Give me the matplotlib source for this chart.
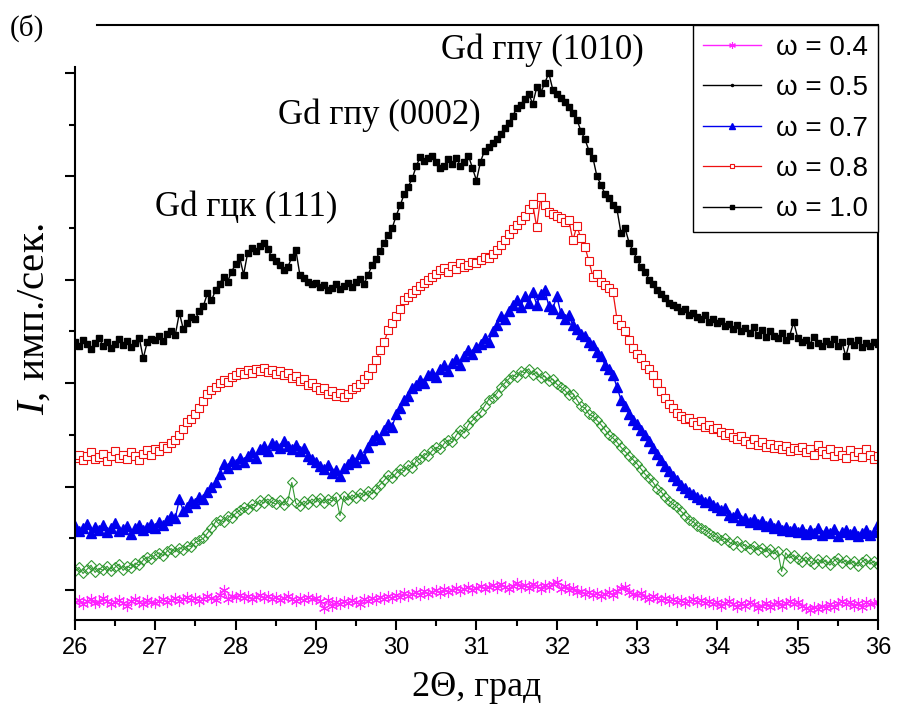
import numpy as np
import matplotlib
matplotlib.use("Agg")
import matplotlib.pyplot as plt
from matplotlib.lines import Line2D
from matplotlib.ticker import MultipleLocator

plt.rcParams["mathtext.fontset"] = "custom"
plt.rcParams["mathtext.rm"] = "Liberation Serif"
plt.rcParams["mathtext.it"] = "Liberation Serif:italic"

# 2-theta scan grid, 0.05 deg step
two_theta = np.round(26.0 + 0.05 * np.arange(201), 2)

# intensities (arb. units), one row per degree
w10 = ([240, 236, 242, 238, 233, 239, 244, 236, 240, 234, 238, 243, 237, 241, 235, 239, 244, 224, 240, 243]
       + [242, 246, 241, 248, 250, 247, 268, 252, 258, 264, 262, 270, 275, 287, 280, 290, 296, 303, 298, 308]
       + [315, 322, 305, 326, 331, 328, 333, 336, 330, 322, 318, 314, 309, 312, 322, 329, 305, 302, 298, 296]
       + [297, 293, 295, 290, 292, 296, 291, 294, 297, 293, 298, 301, 296, 305, 314, 320, 328, 336, 343, 350]
       + [362, 372, 383, 390, 398, 410, 419, 415, 418, 420, 414, 408, 410, 417, 412, 418, 410, 414, 420, 408]
       + [396, 414, 425, 428, 432, 436, 441, 447, 452, 458, 466, 469, 475, 480, 470, 486, 481, 490, 500, 484]
       + [480, 476, 472, 467, 461, 455, 444, 436, 425, 418, 400, 392, 383, 379, 372, 368, 345, 350, 336, 328]
       + [320, 312, 308, 300, 296, 290, 286, 282, 278, 276, 274, 270, 272, 266, 268, 264, 262, 266, 259, 262]
       + [258, 260, 255, 257, 252, 256, 250, 253, 249, 254, 247, 251, 245, 250, 246, 244, 249, 242, 246, 259]
       + [244, 240, 242, 237, 245, 239, 236, 241, 238, 243, 236, 240, 226, 241, 237, 242, 235, 239, 236, 240]
       + [238])

w08 = ([128, 131, 126, 130, 133, 127, 129, 132, 125, 130, 134, 128, 131, 127, 133, 130, 126, 132, 135, 131]
       + [136, 134, 139, 137, 142, 145, 150, 156, 162, 165, 170, 176, 183, 190, 193, 196, 200, 203, 201, 206]
       + [208, 211, 209, 213, 210, 214, 212, 215, 211, 213, 209, 212, 208, 210, 205, 207, 202, 204, 198, 200]
       + [196, 193, 195, 190, 192, 188, 191, 187, 190, 194, 196, 199, 204, 208, 215, 222, 232, 240, 251, 258]
       + [265, 272, 280, 283, 287, 290, 294, 297, 300, 303, 306, 309, 311, 308, 313, 310, 316, 312, 314, 317]
       + [316, 319, 322, 321, 325, 329, 334, 338, 344, 349, 353, 358, 362, 368, 373, 351, 380, 372, 366, 364]
       + [362, 360, 356, 358, 338, 352, 340, 332, 318, 303, 306, 298, 295, 292, 288, 262, 256, 250, 242, 234]
       + [228, 224, 218, 214, 208, 200, 192, 186, 180, 176, 171, 168, 165, 166, 162, 160, 163, 158, 160, 156]
       + [157, 153, 150, 152, 148, 146, 149, 144, 141, 146, 140, 143, 138, 141, 137, 140, 136, 139, 134, 137]
       + [135, 138, 133, 136, 131, 140, 134, 132, 136, 130, 134, 131, 128, 135, 130, 133, 129, 136, 131, 127]
       + [130])

w07 = ([62, 57, 60, 64, 55, 61, 58, 63, 56, 60, 65, 57, 59, 62, 54, 60, 63, 58, 61, 64]
       + [60, 66, 63, 68, 72, 70, 88, 76, 80, 86, 84, 90, 88, 95, 100, 104, 112, 122, 118, 125]
       + [122, 128, 124, 130, 133, 128, 136, 139, 134, 142, 140, 137, 144, 139, 136, 140, 134, 137, 130, 127]
       + [124, 120, 117, 121, 113, 116, 110, 118, 122, 127, 124, 132, 128, 138, 145, 150, 146, 155, 161, 158]
       + [170, 176, 184, 188, 195, 198, 203, 200, 208, 210, 206, 214, 218, 212, 220, 223, 218, 226, 232, 228]
       + [235, 238, 244, 240, 250, 256, 265, 262, 270, 276, 280, 274, 284, 278, 288, 276, 286, 290, 275, 272]
       + [284, 268, 262, 266, 256, 252, 248, 246, 240, 237, 230, 226, 218, 214, 208, 196, 184, 178, 170, 164]
       + [161, 155, 150, 144, 137, 132, 126, 120, 115, 110, 106, 102, 99, 95, 93, 90, 88, 85, 86, 82]
       + [80, 77, 79, 73, 71, 74, 68, 70, 66, 69, 64, 67, 62, 65, 60, 63, 58, 61, 57, 60]
       + [56, 59, 54, 58, 55, 60, 53, 57, 55, 59, 52, 56, 58, 54, 57, 52, 55, 58, 53, 56]
       + [64])

w05 = ([18, 22, 16, 20, 24, 17, 21, 19, 23, 18, 22, 25, 19, 23, 21, 26, 24, 29, 32, 30]
       + [34, 36, 33, 38, 40, 37, 41, 39, 43, 42, 46, 48, 50, 55, 60, 66, 68, 66, 72, 70]
       + [74, 77, 80, 78, 83, 81, 87, 84, 88, 85, 83, 87, 82, 86, 104, 84, 81, 86, 83, 88]
       + [85, 89, 84, 88, 86, 90, 72, 91, 87, 92, 89, 94, 91, 96, 93, 98, 102, 106, 111, 108]
       + [113, 117, 115, 121, 118, 125, 127, 132, 130, 135, 138, 136, 142, 145, 143, 150, 155, 152, 160, 164]
       + [168, 172, 178, 184, 186, 190, 196, 200, 204, 208, 206, 212, 210, 214, 208, 211, 205, 207, 202, 204]
       + [199, 196, 193, 189, 190, 184, 178, 176, 170, 168, 164, 160, 155, 150, 147, 143, 138, 134, 130, 126]
       + [122, 117, 112, 108, 104, 98, 95, 90, 86, 83, 80, 76, 72, 68, 66, 62, 60, 58, 55, 52]
       + [51, 48, 50, 46, 44, 47, 42, 44, 40, 43, 39, 41, 37, 40, 35, 38, 18, 36, 31, 34]
       + [30, 27, 32, 28, 25, 30, 26, 29, 24, 28, 31, 26, 29, 25, 28, 23, 27, 30, 25, 28]
       + [24])

w04 = ([-12, -10, -14, -11, -9, -13, -12, -8, -11, -14, -12, -10, -13, -15, -11, -9, -12, -14, -10, -12]
       + [-13, -11, -9, -12, -10, -8, -11, -9, -7, -10, -8, -11, -9, -6, -8, -10, -5, 0, -9, -6]
       + [-7, -5, -8, -6, -9, -7, -5, -8, -6, -9, -7, -10, -8, -6, -9, -11, -8, -10, -7, -9]
       + [-8, -11, -17, -10, -15, -12, -14, -11, -13, -10, -12, -14, -9, -11, -8, -10, -7, -9, -6, -8]
       + [-5, -7, -3, -6, -4, -2, -5, -1, -4, -2, 0, -3, 1, -2, 0, 2, -1, 1, 3, 0]
       + [2, 4, 1, 3, 5, 2, 6, 3, 1, 4, 7, 3, 5, 2, 6, 4, 1, 5, 3, 6]
       + [8, 1, 4, 0, 2, -2, -1, -4, -2, -5, -3, -6, -4, -2, -5, -1, 2, 3, -2, -4]
       + [-5, -3, -7, -9, -6, -8, -10, -8, -11, -9, -12, -10, -13, -11, -9, -12, -10, -13, -11, -14]
       + [-12, -15, -13, -11, -14, -16, -13, -15, -12, -14, -17, -15, -13, -16, -14, -12, -15, -13, -11, -14]
       + [-12, -15, -17, -19, -16, -18, -15, -17, -14, -16, -13, -11, -14, -12, -15, -13, -16, -12, -14, -13]
       + [-12])

legend_labels = ["ω = 0.4", "ω = 0.5", "ω = 0.7", "ω = 0.8", "ω = 1.0"]
peak_labels = ["Gd гцк (111)", "Gd гпу (0002)", "Gd гпу (1010)"]
peak_pos = [(28.13, 370), (29.79, 459), (31.82, 522)]

fig = plt.figure(figsize=(8.97, 7.06), dpi=100)
ax = fig.add_axes([0.0836, 0.1218, 0.8952, 0.8428])

l10, = ax.plot(two_theta, w10, color="black", lw=1.0, marker="s", ms=5,
               mfc="black", mec="black")
l08, = ax.plot(two_theta, w08, color="#ee1111", lw=0.9, marker="s", ms=5.5,
               mfc="white", mec="#ee1111", mew=0.8)
l07, = ax.plot(two_theta, w07, color="#0000ee", lw=1.0, marker="^", ms=6.5,
               mfc="#0000ee", mec="#0000ee")
l05, = ax.plot(two_theta, w05, color="#339933", lw=0.8, marker="D", ms=5.5,
               mfc="none", mec="#339933", mew=0.8)
l04, = ax.plot(two_theta, w04, color="#ff22ff", lw=1.0, marker=(6, 2, 0), ms=8,
               mec="#ff22ff", mew=0.8)

ax.set_xlim(26, 36)
ax.set_ylim(-29, 546.4)

ax.xaxis.set_major_locator(MultipleLocator(1))
ax.xaxis.set_minor_locator(MultipleLocator(0.5))
ax.yaxis.set_major_locator(MultipleLocator(100))
ax.yaxis.set_minor_locator(MultipleLocator(50))
ax.tick_params(which="both", direction="out", width=1.5, top=False, right=False)
ax.tick_params(which="major", length=7.5)
ax.tick_params(which="minor", length=4.5)
ax.tick_params(axis="x", labelsize=17, pad=5)
ax.tick_params(axis="y", labelleft=False)
for lab in ax.get_xticklabels():
    lab.set_family("Liberation Sans")

for side in ["left", "bottom", "top", "right"]:
    ax.spines[side].set_linewidth(1.5)
ax.spines["left"].set_bounds(-29, 506)
ax.spines["top"].set_bounds(26.27, 36)

ax.set_xlabel("2Θ, град", family="Liberation Serif", fontsize=26)
ax.xaxis.set_label_coords(0.5, -0.085)
ax.set_ylabel(r"$\mathit{I}$, имп./сек.", family="Liberation Serif", fontsize=29.5)
ax.yaxis.set_label_coords(-0.028, 0.505)

for text, (px, py) in zip(peak_labels, peak_pos):
    ax.text(px, py, text, family="Liberation Serif", fontsize=25,
            ha="center", va="center")

fig.text(0.011, 0.960, "(б)", family="Liberation Serif", fontsize=21,
         ha="left", va="center")

dot = Line2D([], [], color="black", lw=1.0, marker="o", ms=2.5)
leg = ax.legend([l04, dot, l07, l08, l10], legend_labels,
                loc="upper right", bbox_to_anchor=(1.0, 1.0), borderaxespad=0.0,
                prop={"family": "Liberation Sans", "size": 20},
                handlelength=2.1, handletextpad=0.55, labelspacing=0.52,
                borderpad=0.35, markerscale=0.6, fancybox=False,
                framealpha=1.0, edgecolor="black")
leg.get_frame().set_linewidth(1.0)

fig.savefig("out.png", dpi=100)
